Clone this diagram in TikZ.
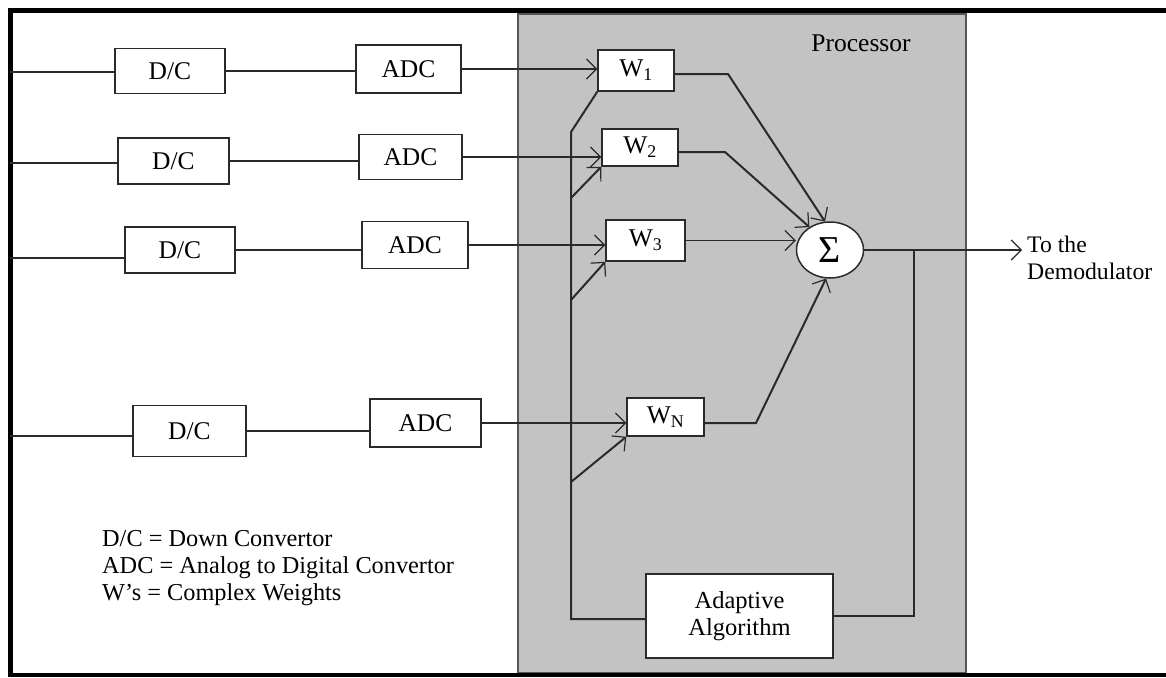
\documentclass[tikz,border=0pt]{standalone}
\usepackage{fontspec}
\setmainfont{Liberation Serif}
\usetikzlibrary{arrows.meta,shapes.geometric}
\definecolor{procgray}{HTML}{C3C3C3}
\definecolor{procedge}{HTML}{555555}
\definecolor{wire}{HTML}{2A2A2A}
\tikzset{
  blk/.style={draw=wire, line width=1.5pt, fill=white, inner sep=0pt, text=black, font=\fontsize{25.5}{28}\selectfont},
  wire/.style={draw=wire, line width=2pt},
  thin/.style={draw=wire, line width=1.2pt},
  arr/.style={-{Straight Barb[length=10pt,width=20pt,line width=1.2pt]}},
  txt/.style={inner sep=0pt, text=black}
}
\begin{document}
\begin{tikzpicture}[x=1pt,y=-1pt]
\useasboundingbox (0,0) rectangle (1166,677);
\fill[white] (0,0) rectangle (1166,677);
% processor area
\draw[fill=procgray, draw=procedge, line width=1.6pt] (518,14) rectangle (966,673);
% outer frame
\draw[line width=5pt, black] (1166,11) -- (10,11) -- (10,677);
\draw[line width=4pt, black] (8,675) -- (1166,675);

% blocks
\node[blk, minimum width=110pt, minimum height=45pt] (dc1) at (170,71) {D/C};
\node[blk, minimum width=105pt, minimum height=48pt] (adc1) at (408.5,69) {ADC};
\node[blk, minimum width=111pt, minimum height=46pt] (dc2) at (173.5,161) {D/C};
\node[blk, minimum width=103pt, minimum height=45pt] (adc2) at (410.5,157) {ADC};
\node[blk, minimum width=110pt, minimum height=46pt] (dc3) at (180,250) {D/C};
\node[blk, minimum width=106pt, minimum height=47pt] (adc3) at (415,245) {ADC};
\node[blk, minimum width=113pt, minimum height=51pt] (dc4) at (189.5,431) {D/C};
\node[blk, minimum width=111pt, minimum height=48pt] (adc4) at (425.5,423) {ADC};

\node[blk, minimum width=76pt, minimum height=41pt] (w1) at (636,70.5) {W\textsubscript{1}};
\node[blk, minimum width=76pt, minimum height=37pt] (w2) at (640,147.5) {W\textsubscript{2}};
\node[blk, minimum width=79pt, minimum height=41pt] (w3) at (645.5,240.5) {W\textsubscript{3}};
\node[blk, minimum width=77pt, minimum height=38pt] (wn) at (665.5,417) {W\textsubscript{N}};

\node[blk, ellipse, minimum width=67pt, minimum height=56pt, font=\fontsize{38}{38}\selectfont] (sum) at (830,250) {Σ};
\node[blk, minimum width=187pt, minimum height=84pt, align=center, font=\fontsize{24.5}{27}\selectfont] (adapt) at (739.5,616) {Adaptive\\Algorithm};

% texts
\node[txt, font=\fontsize{25.5}{28}\selectfont] (proc) at (861,43) {Processor};
\node[txt, anchor=west, align=left, font=\fontsize{23.7}{27}\selectfont] (demod) at (1027,258) {To the\\Demodulator};
\node[txt, anchor=north west, align=left, font=\fontsize{24.3}{27}\selectfont] (legend) at (102,530) {D/C = Down Convertor\\ADC = Analog to Digital Convertor\\W's = Complex Weights};

% coordinates
\coordinate (in1) at (10,72);
\coordinate (in2) at (10,163);
\coordinate (in3) at (10,258);
\coordinate (in4) at (10,436);
\coordinate (k1) at (728,74);
\coordinate (k2) at (725,152);
\coordinate (k4) at (756,423);
\coordinate (out) at (1022,250);
\coordinate (tap) at (914,250);
\coordinate (bt) at (571,132);
\coordinate (bb) at (571,619);
\coordinate (b2) at (571,198);
\coordinate (b3) at (571,300);
\coordinate (b4) at (571,482);

% input lines
\draw[wire] (in1) -- (in1 -| dc1.west);
\draw[thin] (in2) -- (in2 -| dc2.west);
\draw[wire] (in3) -- (in3 -| dc3.west);
\draw[wire] (in4) -- (in4 -| dc4.west);
% D/C to ADC
\draw[wire] (dc1.east) -- (dc1.east -| adc1.west);
\draw[thin] (dc2.east) -- (dc2.east -| adc2.west);
\draw[wire] (dc3.east) -- (dc3.east -| adc3.west);
\draw[wire] (dc4.east) -- (dc4.east -| adc4.west);
% ADC to weights
\draw[wire, arr] (adc1.east) -- (adc1.east -| w1.west);
\draw[wire, arr] (adc2.east) -- (adc2.east -| w2.west);
\draw[wire, arr] (adc3.east) -- (adc3.east -| w3.west);
\draw[thin, arr] (adc4.east) -- (adc4.east -| wn.west);
% weights to sum
\draw[wire, arr] (w1.east |- k1) -- (k1) -- (sum.100);
\draw[wire, arr] (w2.east |- k2) -- (k2) -- (sum.132);
\draw[thin, arr] (w3.east) -- (w3.east -| sum.west);
\draw[wire, arr] (wn.east |- k4) -- (k4) -- (sum.262);
% output and feedback
\draw[wire, arr] (sum.east) -- (out);
\draw[wire] (tap) |- (adapt.east);
% adaptive bus
\draw[wire] (adapt.west |- bb) -- (bb) -- (bt) -- (w1.south west);
\draw[wire, arr] (b2) -- (w2.south west);
\draw[wire, arr] (b3) -- (w3.south west);
\draw[wire, arr] (b4) -- (wn.south west);
\end{tikzpicture}
\end{document}
